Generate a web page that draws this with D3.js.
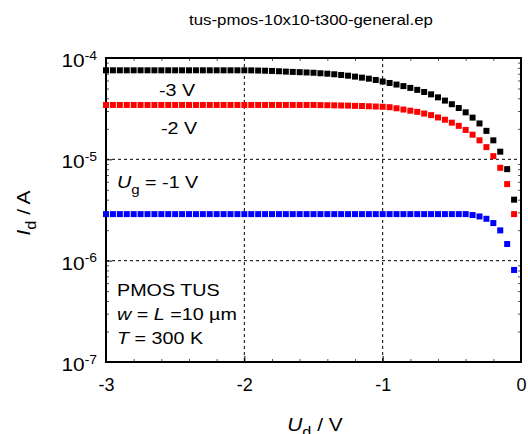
<!DOCTYPE html>
<html>
<head>
<meta charset="utf-8">
<script src="https://cdn.jsdelivr.net/npm/d3@7"></script>
<style>
  body { margin: 0; background: #fff; }
  svg { display: block; }
  text { font-family: "Liberation Sans", Arial, sans-serif; fill: #000; }
</style>
</head>
<body>
<svg id="chart" width="528" height="434"></svg>
<script>
const title = "tus-pmos-10x10-t300-general.ep";

// drain voltage sweep (V)
const ud = [
  -3.00, -2.95, -2.90, -2.85, -2.80, -2.75, -2.70, -2.65, -2.60, -2.55,
  -2.50, -2.45, -2.40, -2.35, -2.30, -2.25, -2.20, -2.15, -2.10, -2.05,
  -2.00, -1.95, -1.90, -1.85, -1.80, -1.75, -1.70, -1.65, -1.60, -1.55,
  -1.50, -1.45, -1.40, -1.35, -1.30, -1.25, -1.20, -1.15, -1.10, -1.05,
  -1.00, -0.95, -0.90, -0.85, -0.80, -0.75, -0.70, -0.65, -0.60, -0.55,
  -0.50, -0.45, -0.40, -0.35, -0.30, -0.25, -0.20, -0.15, -0.10, -0.05
];

// drain current magnitude (A), Ug = -3 V
const idUg3 = [
  7.56e-5, 7.56e-5, 7.56e-5, 7.56e-5, 7.56e-5, 7.56e-5, 7.56e-5, 7.56e-5, 7.56e-5, 7.56e-5,
  7.56e-5, 7.56e-5, 7.56e-5, 7.56e-5, 7.56e-5, 7.56e-5, 7.56e-5, 7.56e-5, 7.56e-5, 7.56e-5,
  7.56e-5, 7.55e-5, 7.52e-5, 7.49e-5, 7.45e-5, 7.40e-5, 7.34e-5, 7.29e-5, 7.25e-5, 7.20e-5,
  7.15e-5, 7.07e-5, 7.00e-5, 6.91e-5, 6.80e-5, 6.69e-5, 6.55e-5, 6.40e-5, 6.25e-5, 6.07e-5,
  5.86e-5, 5.67e-5, 5.47e-5, 5.28e-5, 5.07e-5, 4.85e-5, 4.62e-5, 4.38e-5, 4.09e-5, 3.80e-5,
  3.50e-5, 3.21e-5, 2.91e-5, 2.58e-5, 2.26e-5, 1.91e-5, 1.54e-5, 1.19e-5, 8.0e-6, 4.0e-6
];

// Ug = -2 V
const idUg2 = [
  3.44e-5, 3.44e-5, 3.44e-5, 3.44e-5, 3.44e-5, 3.44e-5, 3.44e-5, 3.44e-5, 3.44e-5, 3.44e-5,
  3.44e-5, 3.44e-5, 3.44e-5, 3.44e-5, 3.44e-5, 3.44e-5, 3.44e-5, 3.44e-5, 3.44e-5, 3.44e-5,
  3.44e-5, 3.44e-5, 3.44e-5, 3.44e-5, 3.44e-5, 3.44e-5, 3.44e-5, 3.44e-5, 3.44e-5, 3.44e-5,
  3.44e-5, 3.43e-5, 3.42e-5, 3.41e-5, 3.40e-5, 3.39e-5, 3.37e-5, 3.36e-5, 3.34e-5, 3.32e-5,
  3.30e-5, 3.27e-5, 3.19e-5, 3.10e-5, 3.02e-5, 2.94e-5, 2.83e-5, 2.73e-5, 2.59e-5, 2.46e-5,
  2.30e-5, 2.14e-5, 1.95e-5, 1.75e-5, 1.54e-5, 1.32e-5, 1.075e-5, 8.25e-6, 5.70e-6, 2.88e-6
];

// Ug = -1 V
const idUg1 = [
  2.88e-6, 2.88e-6, 2.88e-6, 2.88e-6, 2.88e-6, 2.88e-6, 2.88e-6, 2.88e-6, 2.88e-6, 2.88e-6,
  2.88e-6, 2.88e-6, 2.88e-6, 2.88e-6, 2.88e-6, 2.88e-6, 2.88e-6, 2.88e-6, 2.88e-6, 2.88e-6,
  2.88e-6, 2.88e-6, 2.88e-6, 2.88e-6, 2.88e-6, 2.88e-6, 2.88e-6, 2.88e-6, 2.88e-6, 2.88e-6,
  2.88e-6, 2.88e-6, 2.88e-6, 2.88e-6, 2.88e-6, 2.88e-6, 2.88e-6, 2.88e-6, 2.88e-6, 2.88e-6,
  2.88e-6, 2.88e-6, 2.88e-6, 2.88e-6, 2.88e-6, 2.88e-6, 2.88e-6, 2.88e-6, 2.88e-6, 2.88e-6,
  2.88e-6, 2.88e-6, 2.88e-6, 2.82e-6, 2.73e-6, 2.59e-6, 2.35e-6, 1.99e-6, 1.46e-6, 8.1e-7
];

const seriesNames = ["-3 V", "-2 V", "-1 V"];
const seriesColors = ["#000000", "#ff0000", "#0000ff"];
const seriesValues = [idUg3, idUg2, idUg1];

const xTicks = [-3, -2, -1, 0];
const xMinor = [-2.8, -2.6, -2.4, -2.2, -1.8, -1.6, -1.4, -1.2, -0.8, -0.6, -0.4, -0.2];
const yTicks = [1e-7, 1e-6, 1e-5, 1e-4];
const yMinor = [2e-7, 3e-7, 4e-7, 5e-7, 6e-7, 7e-7, 8e-7, 9e-7,
                2e-6, 3e-6, 4e-6, 5e-6, 6e-6, 7e-6, 8e-6, 9e-6,
                2e-5, 3e-5, 4e-5, 5e-5, 6e-5, 7e-5, 8e-5, 9e-5];
const xGrid = [-2, -1];
const yGrid = [1e-6, 1e-5];

const plotLeft = 106, plotRight = 521, plotTop = 58, plotBottom = 362;
const sx = 1.16; // the original's fonts run a bit wide

const svg = d3.select("#chart");
const x = d3.scaleLinear().domain([-3, 0]).range([plotLeft, plotRight]);
const y = d3.scaleLog().domain([1e-7, 1e-4]).range([plotBottom, plotTop]);

function wideText(px, py, size, anchor, rot) {
  return svg.append("text")
    .attr("transform", `translate(${px},${py})${rot ? " rotate(" + rot + ")" : ""} scale(${sx},1)`)
    .attr("font-size", size)
    .attr("text-anchor", anchor || "start");
}

wideText(311, 25, 14.5, "middle").text(title);

// dashed grid
const grid = svg.append("g").attr("stroke", "#000").attr("stroke-width", 1).attr("stroke-dasharray", "3,3");
grid.selectAll("line.gx").data(xGrid).join("line")
  .attr("x1", (d) => x(d)).attr("x2", (d) => x(d))
  .attr("y1", plotTop).attr("y2", plotBottom);
grid.selectAll("line.gy").data(yGrid).join("line")
  .attr("x1", plotLeft).attr("x2", plotRight)
  .attr("y1", (d) => y(d)).attr("y2", (d) => y(d));

// minor ticks (inward)
function minorAxis(axis, tx, ty) {
  svg.append("g").attr("transform", `translate(${tx},${ty})`)
    .call(axis.tickFormat("").tickSizeOuter(0))
    .call((g) => g.select(".domain").remove())
    .call((g) => g.selectAll("line").attr("stroke", "#555"));
}
minorAxis(d3.axisBottom(x).tickValues(xMinor).tickSize(-3), 0, plotBottom);
minorAxis(d3.axisTop(x).tickValues(xMinor).tickSize(-3), 0, plotTop);
minorAxis(d3.axisLeft(y).tickValues(yMinor).tickSize(-3), plotLeft, 0);
minorAxis(d3.axisRight(y).tickValues(yMinor).tickSize(-3), plotRight, 0);

// major ticks + labels
const xAxis = svg.append("g").attr("transform", `translate(0,${plotBottom})`)
  .call(d3.axisBottom(x).tickValues(xTicks).tickSize(-6).tickSizeOuter(0).tickPadding(16)
    .tickFormat((d) => String(d)));
xAxis.select(".domain").remove();
xAxis.selectAll("text").attr("font-size", 18).attr("font-family", null);

const yAxis = svg.append("g").attr("transform", `translate(${plotLeft},0)`)
  .call(d3.axisLeft(y).tickValues(yTicks).tickSize(-6).tickSizeOuter(0).tickFormat(""));
yAxis.select(".domain").remove();
yTicks.forEach((d) => {
  const t = wideText(plotLeft - 9, y(d), 18, "end").attr("dy", "0.5em");
  t.append("tspan").text("10");
  t.append("tspan").attr("dy", "-0.6em").attr("font-size", 12).text(Math.round(Math.log10(d)));
});

// frame
svg.append("rect")
  .attr("x", plotLeft).attr("y", plotTop)
  .attr("width", plotRight - plotLeft).attr("height", plotBottom - plotTop)
  .attr("fill", "none").attr("stroke", "#000").attr("stroke-width", 2);

// data points
const ms = 6;
seriesValues.forEach((vals, i) => {
  svg.append("g").attr("fill", seriesColors[i])
    .selectAll("rect")
    .data(ud.map((u, k) => ({ u, v: vals[k] })).filter((p) => p.v > 0))
    .join("rect")
    .attr("x", (p) => x(p.u) - ms / 2)
    .attr("y", (p) => y(p.v) - ms / 2)
    .attr("width", ms).attr("height", ms);
});

// annotations
const fs = 17;
wideText(159, 96, fs).text(seriesNames[0]);
wideText(161, 134, fs).text(seriesNames[1]);
const ug = wideText(117, 188, fs);
ug.append("tspan").attr("font-style", "italic").text("U");
ug.append("tspan").attr("font-size", 13).attr("dy", 6).text("g");
ug.append("tspan").attr("dy", -6).text(" = " + seriesNames[2]);

wideText(117, 296, fs).text("PMOS TUS");
const wl = wideText(117, 320, fs);
wl.append("tspan").attr("font-style", "italic").text("w");
wl.append("tspan").text(" = ");
wl.append("tspan").attr("font-style", "italic").text("L");
wl.append("tspan").text(" =10 \u00b5m");
const tt = wideText(117, 344, fs);
tt.append("tspan").attr("font-style", "italic").text("T");
tt.append("tspan").text(" = 300 K");

// axis titles
const xl = wideText(315, 431, 18, "middle");
xl.append("tspan").attr("font-style", "italic").text("U");
xl.append("tspan").attr("font-size", 14).attr("dy", 6).text("d");
xl.append("tspan").attr("dy", -6).text(" / V");

const yl = wideText(30, 213, 18, "middle", -90);
yl.append("tspan").attr("font-style", "italic").text("I");
yl.append("tspan").attr("font-size", 14).attr("dy", 6).text("d");
yl.append("tspan").attr("dy", -6).text(" / A");
</script>
</body>
</html>
